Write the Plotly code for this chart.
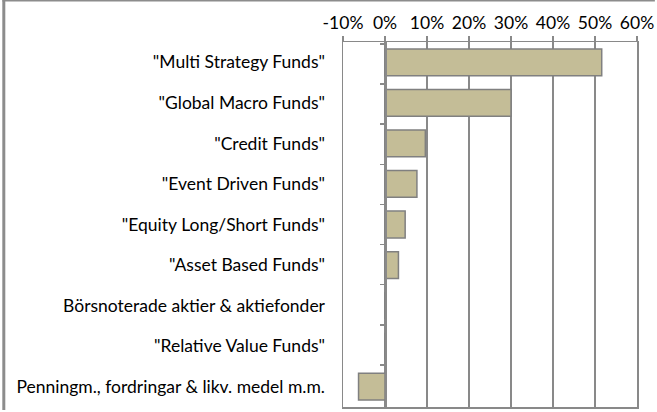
import plotly.graph_objects as go

categories = [
    '"Multi Strategy Funds"',
    '"Global Macro Funds"',
    '"Credit Funds"',
    '"Event Driven Funds"',
    '"Equity Long/Short Funds"',
    '"Asset Based Funds"',
    'Börsnoterade aktier & aktiefonder',
    '"Relative Value Funds"',
    'Penningm., fordringar & likv. medel m.m.',
]
values = [0.516, 0.300, 0.096, 0.076, 0.048, 0.032, 0.0, 0.0, -0.063]
x_tickvals = [-0.1, 0.0, 0.1, 0.2, 0.3, 0.4, 0.5, 0.6]
x_ticktext = ["-10%", "0%", "10%", "20%", "30%", "40%", "50%", "60%"]

FONT = "Lato"
FS = 17.5
GRAY = "#898989"
x_min, x_max = -0.1, 0.6

fig = go.Figure()
fig.add_trace(go.Bar(
    x=values, y=categories, orientation="h",
    marker=dict(color="#C4BD97", line=dict(color="#808080", width=1.5)),
    hoverinfo="skip", showlegend=False,
))
# invisible trace to give the zero-axis its category ticks
fig.add_trace(go.Scatter(
    x=values, y=categories, yaxis="y2", mode="markers",
    marker=dict(opacity=0), hoverinfo="skip", showlegend=False,
))

L, R, T, B = 343, 18, 42, 3
PW, PH = 657 - L - R, 412 - T - B

fig.update_layout(
    width=657, height=412,
    margin=dict(l=L, r=R, t=T, b=B),
    paper_bgcolor="white", plot_bgcolor="white",
    bargap=0.34,
    font=dict(family=FONT, size=FS, color="#000000"),
    xaxis=dict(
        side="top", range=[x_min, x_max],
        tickvals=x_tickvals, ticktext=x_ticktext,
        ticks="outside", ticklen=5, tickcolor=GRAY, tickwidth=1.5,
        showgrid=True, gridcolor=GRAY, gridwidth=1.5,
        showline=True, linecolor=GRAY, linewidth=1.5, mirror=True,
        zeroline=False, fixedrange=True,
        tickfont=dict(family=FONT, size=FS),
    ),
    yaxis=dict(
        type="category", categoryorder="array", categoryarray=categories,
        autorange="reversed",
        showgrid=False, zeroline=False, ticks="",
        showline=True, linecolor=GRAY, linewidth=1.5, mirror=True,
        ticklabelstandoff=13,
        tickfont=dict(family=FONT, size=FS),
    ),
    yaxis2=dict(
        type="category", categoryorder="array", categoryarray=categories,
        autorange="reversed", overlaying="y", anchor="free",
        position=(0 - x_min) / (x_max - x_min),
        showgrid=False, zeroline=False, showticklabels=False,
        ticks="outside", tickson="boundaries", ticklen=5,
        tickcolor=GRAY, tickwidth=1.5,
        showline=True, linecolor=GRAY, linewidth=1.5,
    ),
    shapes=[
        dict(type="line", xref="paper", yref="paper", x0=-(L - 1.5) / PW, x1=-(L - 1.5) / PW,
             y0=-B / PH, y1=1 + T / PH, line=dict(color="#8c8c8c", width=3)),
        dict(type="line", xref="paper", yref="paper", x0=-L / PW, x1=1 + R / PW,
             y0=1 + (T - 0.5) / PH, y1=1 + (T - 0.5) / PH, line=dict(color="#8c8c8c", width=1.5)),
    ],
)

fig.write_html(
    "out.html",
    config={"displayModeBar": False, "staticPlot": True},
    post_script="document.body.style.margin='0px';document.body.style.padding='0px';",
)
